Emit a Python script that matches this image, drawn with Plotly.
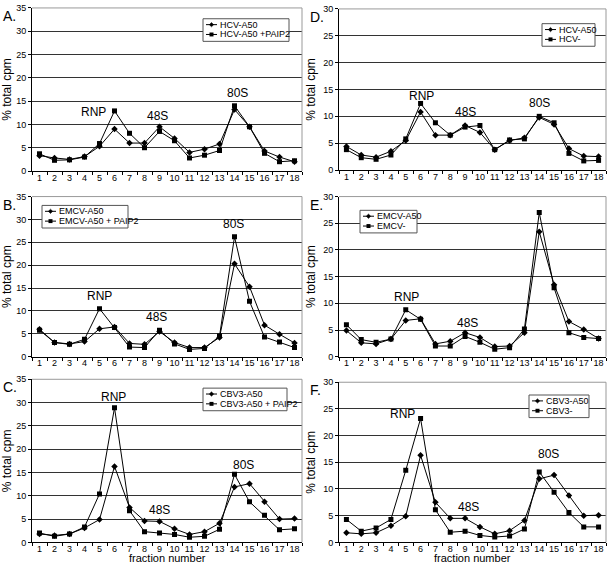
import plotly.graph_objects as go

fractions = list(range(1, 19))

hcv_a50 = [3.3, 2.8, 2.5, 3.1, 5.3, 9.0, 6.0, 6.0, 9.5, 7.0, 4.0, 4.7, 5.8, 13.2, 9.5, 4.3, 3.0, 2.0]
hcv_a50_paip2 = [3.7, 2.3, 2.4, 3.0, 5.9, 12.9, 8.1, 5.0, 8.5, 6.5, 2.8, 3.4, 4.4, 14.0, 9.5, 3.8, 2.0, 2.2]
emcv_a50_b = [6.0, 3.1, 2.8, 3.3, 6.1, 6.5, 2.9, 2.7, 5.5, 3.1, 2.0, 2.0, 4.2, 20.3, 15.3, 6.9, 4.9, 3.0]
emcv_a50_paip2 = [5.8, 3.1, 2.7, 3.8, 10.5, 6.4, 2.1, 2.0, 5.8, 2.8, 1.6, 1.8, 4.5, 26.2, 12.1, 4.3, 3.2, 2.0]
cbv3_a50_c = [1.8, 1.5, 1.8, 3.1, 4.9, 16.3, 7.5, 4.6, 4.5, 2.9, 1.7, 2.3, 4.1, 11.9, 12.6, 8.7, 5.0, 5.1]
cbv3_a50_paip2 = [2.0, 1.3, 1.8, 3.3, 10.4, 28.9, 6.8, 2.3, 2.0, 1.7, 1.1, 1.3, 2.8, 14.6, 8.7, 5.8, 2.7, 2.9]
hcv_a50_d = [4.4, 2.8, 2.4, 3.5, 5.5, 10.8, 6.5, 6.5, 8.3, 7.0, 3.8, 5.5, 6.0, 9.8, 8.5, 4.0, 2.6, 2.5]
hcv_minus = [3.8, 2.3, 2.0, 2.8, 5.8, 12.4, 8.8, 6.5, 8.0, 8.3, 3.8, 5.6, 5.8, 10.0, 8.8, 3.1, 1.7, 1.8]
emcv_a50_e = [4.9, 2.6, 2.4, 3.3, 6.8, 7.1, 2.4, 2.9, 4.5, 3.6, 1.9, 2.0, 4.5, 23.4, 13.5, 6.6, 5.1, 3.4]
emcv_minus = [6.0, 3.2, 2.7, 3.3, 8.8, 7.0, 2.0, 2.0, 3.8, 2.7, 1.4, 1.7, 5.2, 27.0, 12.9, 4.5, 3.6, 3.4]
cbv3_a50_f = [1.8, 1.6, 1.8, 3.1, 4.9, 16.3, 7.5, 4.5, 4.5, 2.9, 1.6, 2.2, 4.1, 11.9, 12.6, 8.8, 5.0, 5.1]
cbv3_minus = [4.3, 2.1, 2.7, 4.3, 13.5, 23.2, 6.1, 1.9, 2.1, 1.3, 1.0, 1.2, 2.5, 13.2, 9.4, 5.6, 2.9, 2.9]

W, H = 608, 568

panels = [
    dict(label="A.", s1=("HCV-A50", hcv_a50), s2=("HCV-A50 +PAIP2", hcv_a50_paip2), ymax=35,
         px=(32, 302), py=(3, 169), leg=(203, 14, 86),
         ann=[("RNP", 4.63, 12.7), ("48S", 8.85, 11.8), ("80S", 14.2, 16.7)], xtitle=False),
    dict(label="B.", s1=("EMCV-A50", emcv_a50_b), s2=("EMCV-A50 + PAIP2", emcv_a50_paip2), ymax=35,
         px=(32, 302), py=(195, 358), leg=(42, 204, 86),
         ann=[("RNP", 5.0, 13.2), ("48S", 8.8, 8.7), ("80S", 13.9, 28.9)], xtitle=False),
    dict(label="C.", s1=("CBV3-A50", cbv3_a50_c), s2=("CBV3-A50 + PAIP2", cbv3_a50_paip2), ymax=35,
         px=(32, 302), py=(381, 547), leg=(203, 390, 84),
         ann=[("RNP", 5.93, 31.3), ("48S", 9.0, 6.9), ("80S", 14.6, 16.5)], xtitle=True),
    dict(label="D.", s1=("HCV-A50", hcv_a50_d), s2=("HCV-", hcv_minus), ymax=30,
         px=(339, 606), py=(4, 168), leg=(542, 19, 53),
         ann=[("RNP", 6.03, 13.8), ("48S", 9.05, 10.8), ("80S", 14.0, 12.4)], xtitle=False),
    dict(label="E.", s1=("EMCV-A50", emcv_a50_e), s2=("EMCV-", emcv_minus), ymax=30,
         px=(339, 606), py=(195, 358), leg=(360, 209, 57),
         ann=[("RNP", 5.08, 11.2), ("48S", 9.16, 6.4), ("80S", 14.1, 32.0)], xtitle=False),
    dict(label="F.", s1=("CBV3-A50", cbv3_a50_f), s2=("CBV3-", cbv3_minus), ymax=30,
         px=(339, 606), py=(384, 547), leg=(529, 397, 60),
         ann=[("RNP", 4.8, 24.1), ("48S", 9.2, 6.6), ("80S", 14.6, 16.5)], xtitle=True),
]

fig = go.Figure()
FONT = "Liberation Sans, Arial, sans-serif"
annotations = []
shapes = []
layout = {}


def fx(px):
    return px / W


def fy(py):
    return 1 - py / H


for i, p in enumerate(panels, start=1):
    sfx = "" if i == 1 else str(i)
    xa, ya = "x" + sfx, "y" + sfx
    for name, vals, sym, size in [(p["s1"][0], p["s1"][1], "diamond", 5),
                                  (p["s2"][0], p["s2"][1], "square", 5)]:
        fig.add_trace(go.Scatter(
            x=fractions, y=vals, name=name, mode="lines+markers",
            line=dict(color="black", width=1),
            marker=dict(symbol=sym, size=size, color="black"),
            xaxis=xa, yaxis=ya, showlegend=False,
        ))
    x0, x1 = fx(p["px"][0]), fx(p["px"][1])
    y0, y1 = fy(p["py"][1]), fy(p["py"][0])
    layout["xaxis" + sfx] = dict(
        domain=[x0, x1], anchor=ya, range=[0.5, 18.5],
        tickvals=fractions, ticktext=[str(f) for f in fractions],
        ticks="", showgrid=False, zeroline=False,
        showline=True, linecolor="black", linewidth=1,
        tickfont=dict(size=9, family=FONT, color="black"),
        ticklabelstandoff=-2,
        minor=dict(tickvals=[k + 0.5 for k in range(0, 19)], ticks="outside",
                   ticklen=3, tickcolor="black", showgrid=False),
        fixedrange=True,
    )
    layout["yaxis" + sfx] = dict(
        domain=[y0, y1], anchor=xa, range=[0, p["ymax"]], dtick=5,
        ticks="outside", ticklen=3, tickcolor="black",
        showgrid=True, gridcolor="#333333", gridwidth=1, zeroline=False,
        showline=True, linecolor="black", linewidth=1,
        tickfont=dict(size=9, family=FONT, color="black"),
        title=dict(text="% total cpm", font=dict(size=12, family=FONT, color="black"), standoff=4),
        fixedrange=True,
    )
    # top/right grey border
    shapes.append(dict(type="line", xref="paper", yref="paper", x0=x0, x1=x1, y0=y1, y1=y1,
                       line=dict(color="#999999", width=1)))
    shapes.append(dict(type="line", xref="paper", yref="paper", x0=x1, x1=x1, y0=y0, y1=y1,
                       line=dict(color="#999999", width=1)))
    for txt, ax, ay in p["ann"]:
        annotations.append(dict(text=txt, x=ax, y=ay, xref=xa, yref=ya, showarrow=False,
                                font=dict(size=12, family=FONT, color="black")))
    annotations.append(dict(text=p["label"], x=fx(p["px"][0] - 31), y=fy(p["py"][0] - 2),
                            xref="paper", yref="paper", xanchor="left", yanchor="top",
                            showarrow=False, font=dict(size=14, family=FONT, color="black")))
    if p["xtitle"]:
        annotations.append(dict(text="fraction number", x=(x0 + x1) / 2, y=fy(563),
                                xref="paper", yref="paper", xanchor="center", yanchor="middle",
                                showarrow=False, font=dict(size=11, family=FONT, color="black")))

    # compact legend box drawn by hand
    lx, ltop, lw = p["leg"]
    lh = 23
    shapes.append(dict(type="rect", xref="paper", yref="paper",
                       x0=fx(lx), x1=fx(lx + lw), y0=fy(ltop + lh), y1=fy(ltop),
                       line=dict(color="#555555", width=1), fillcolor="white", layer="above"))
    for k, (name, sym) in enumerate([(p["s1"][0], "diamond"), (p["s2"][0], "square")]):
        ry = ltop + 6 + 10 * k
        shapes.append(dict(type="line", xref="paper", yref="paper",
                           x0=fx(lx + 3), x1=fx(lx + 14), y0=fy(ry), y1=fy(ry),
                           line=dict(color="black", width=1), layer="above"))
        cx = lx + 8.5
        if sym == "diamond":
            path = "M {a},{b} L {c},{d} L {a},{e} L {f},{d} Z".format(
                a=fx(cx), b=fy(ry - 2.2), c=fx(cx + 2.2), d=fy(ry), e=fy(ry + 2.2), f=fx(cx - 2.2))
            shapes.append(dict(type="path", xref="paper", yref="paper", path=path,
                               fillcolor="black", line=dict(color="black", width=0.5), layer="above"))
        else:
            shapes.append(dict(type="rect", xref="paper", yref="paper",
                               x0=fx(cx - 2), x1=fx(cx + 2), y0=fy(ry + 2), y1=fy(ry - 2),
                               fillcolor="black", line=dict(color="black", width=0), layer="above"))
        annotations.append(dict(text=name, x=fx(lx + 15), y=fy(ry), xref="paper", yref="paper",
                                xanchor="left", yanchor="middle", showarrow=False,
                                font=dict(size=9, family=FONT, color="black")))

fig.update_layout(
    width=W, height=H, margin=dict(l=0, r=0, t=0, b=0),
    paper_bgcolor="white", plot_bgcolor="white",
    font=dict(family=FONT, color="black"),
    annotations=annotations, shapes=shapes, showlegend=False,
    **layout,
)

fig.write_html("out.html", config={"displayModeBar": False},
               post_script="document.body.style.margin='0';document.body.style.overflow='hidden';")
